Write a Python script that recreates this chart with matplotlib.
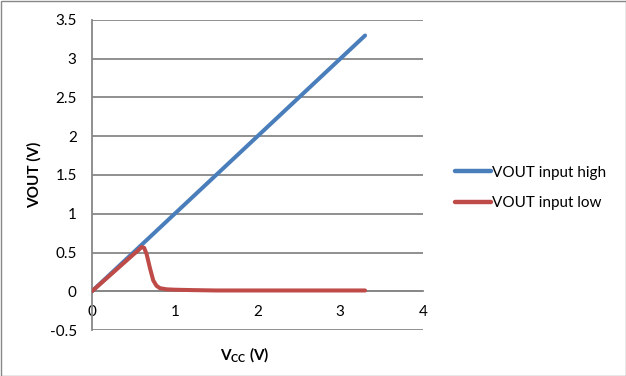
import matplotlib
matplotlib.use("Agg")
import matplotlib.pyplot as plt
from matplotlib.patches import Rectangle

plt.rcParams['font.family'] = ['Lato', 'DejaVu Sans']

high_x = [0, 0.5, 1.0, 1.5, 2.0, 2.5, 3.0, 3.3]
high_y = [0, 0.5, 1.0, 1.5, 2.0, 2.5, 3.0, 3.3]

low_x = [0, 0.1, 0.2, 0.3, 0.4, 0.5, 0.55, 0.6, 0.63, 0.66, 0.7, 0.74, 0.78,
         0.82, 0.9, 1.0, 1.2, 1.5, 2.0, 2.5, 3.0, 3.3]
low_y = [0, 0.095, 0.19, 0.285, 0.38, 0.475, 0.52, 0.57, 0.56, 0.48, 0.3, 0.14,
         0.07, 0.04, 0.025, 0.02, 0.015, 0.01, 0.01, 0.01, 0.01, 0.01]

xticks = [0, 1, 2, 3, 4]
yticks = [-0.5, 0, 0.5, 1, 1.5, 2, 2.5, 3, 3.5]
ytick_labels = ['-0.5', '0', '0.5', '1', '1.5', '2', '2.5', '3', '3.5']

W, H = 626, 376
fig = plt.figure(figsize=(W / 100, H / 100), dpi=100)
ax = fig.add_axes([92 / W, (H - 330) / H, (423 - 92) / W, (330 - 20) / H])

grid_c = '#878787'
ax.plot(high_x, high_y, color='#4A7EBB', lw=2.9, solid_capstyle='round',
        label='VOUT input high', zorder=3)
ax.plot(low_x, low_y, color='#BE4B48', lw=2.9, solid_capstyle='round',
        solid_joinstyle='round', label='VOUT input low', zorder=4)

ax.set_xlim(0, 4)
ax.set_ylim(-0.5, 3.5)
ax.set_xticks(xticks)
ax.set_yticks(yticks)
ax.set_yticklabels(ytick_labels)
ax.yaxis.grid(True, color=grid_c, lw=1.3)
ax.set_axisbelow(True)
for s in ['top', 'right']:
    ax.spines[s].set_visible(False)
ax.spines['left'].set_color(grid_c)
ax.spines['left'].set_linewidth(1.3)
ax.spines['bottom'].set_position(('data', 0))
ax.spines['bottom'].set_color(grid_c)
ax.spines['bottom'].set_linewidth(1.3)
ax.tick_params(axis='both', length=0, labelsize=11, colors='black')
ax.tick_params(axis='y', pad=11)
ax.tick_params(axis='x', pad=10)

fig.text(34 / W, 1 - 175 / H, 'VOUT (V)', rotation=90, ha='center', va='center',
         fontsize=11, fontweight='bold')
fig.text(245 / W, 1 - 355 / H, r'V$_{\mathregular{CC}}$ (V)', ha='center', va='center',
         fontsize=11, fontweight='bold')

leg = ax.legend(loc='center left', bbox_to_anchor=(441 / W, 1 - 188 / H),
                bbox_transform=fig.transFigure, frameon=False, fontsize=11,
                handlelength=2.35, handletextpad=0.1, labelspacing=1.1)
for line in leg.get_lines():
    line.set_linewidth(3.2)

fig.patches.append(Rectangle((0.5 / W, 0.5 / H), (W - 1) / W, (H - 1) / H,
                             transform=fig.transFigure, fill=False,
                             edgecolor='#878787', lw=1.0))

fig.savefig('out.png', dpi=100)
